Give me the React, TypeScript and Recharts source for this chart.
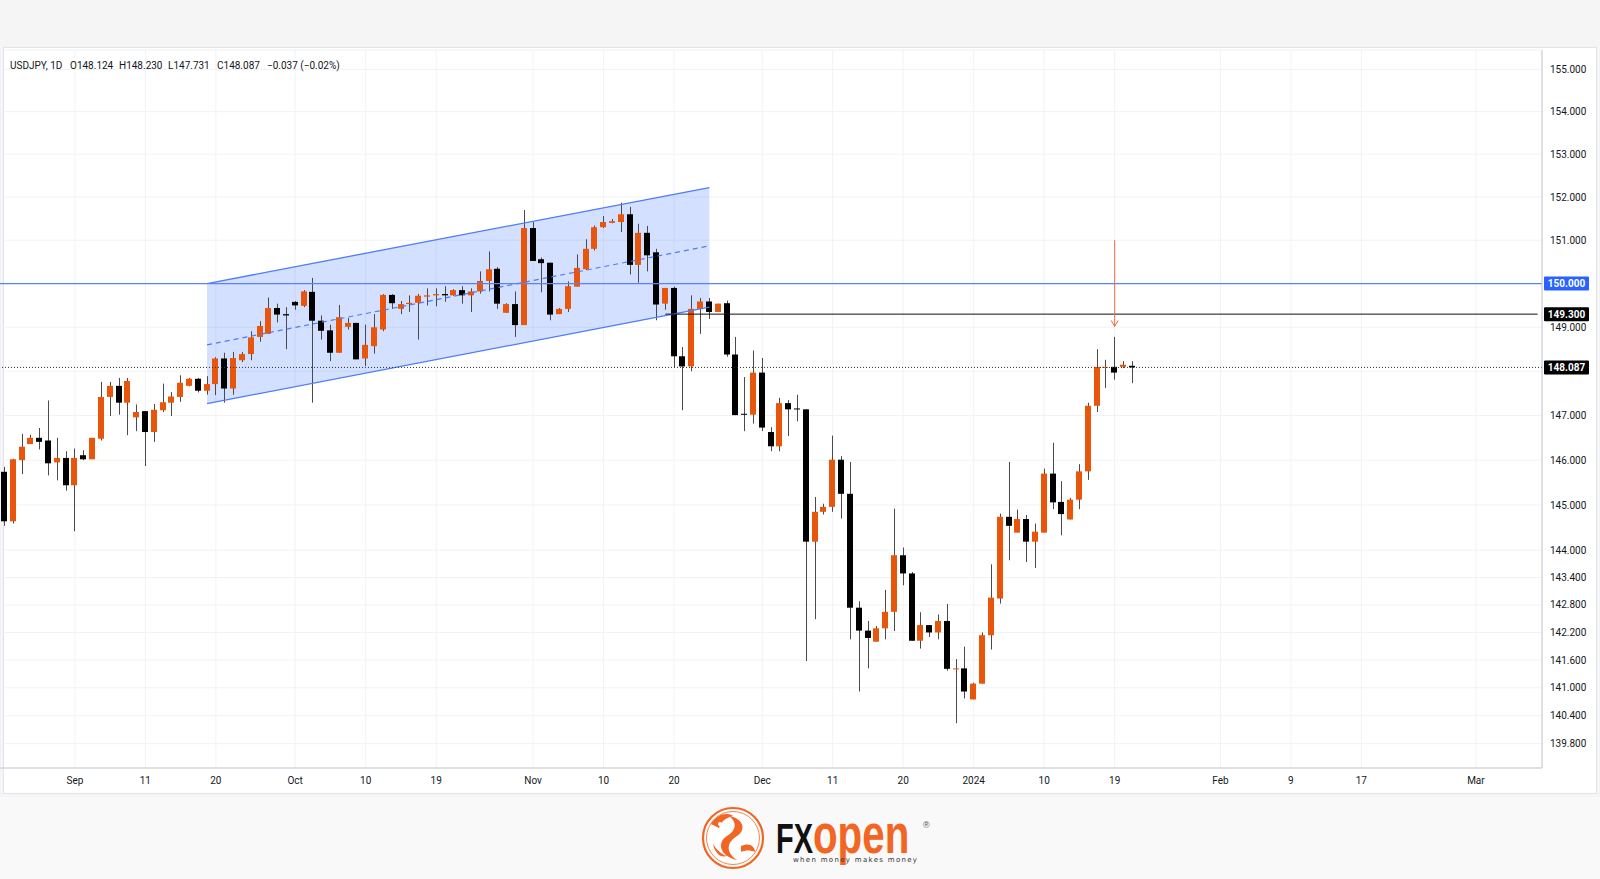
import React from 'react';
import { ComposedChart, Bar, Area, Line, XAxis, YAxis, CartesianGrid, ReferenceLine } from 'recharts';

// USDJPY daily candles (oldest first)
const opens = [
  145.74, 144.64, 146.0, 146.36, 146.5, 146.44, 145.95, 146.05, 145.44, 146.11,
  146.02, 146.48, 147.42, 147.67, 147.29, 146.96, 147.1, 146.63, 147.12, 147.29,
  147.42, 147.67, 147.83, 147.56, 147.71, 148.29, 147.61, 148.25, 148.39, 148.78,
  148.85, 149.44, 149.3, 149.58, 149.49, 149.81, 149.15, 148.93, 148.42, 149.01,
  149.1, 148.29, 148.57, 148.95, 149.74, 149.42, 149.53, 149.56, 149.7, 149.73,
  149.76, 149.73, 149.85, 149.73, 149.82, 150.06, 150.34, 149.33, 149.53, 149.05,
  151.28, 150.56, 150.48, 149.3, 149.42, 149.93, 150.33, 150.8, 151.3, 151.4,
  151.42, 151.6, 150.43, 151.17, 150.72, 149.54, 149.9, 148.34, 148.11, 149.42,
  149.59, 149.35, 149.55, 148.38, 147.04, 147.02, 147.97, 146.63, 146.31, 147.28,
  147.16, 147.14, 144.19, 144.85, 144.96, 146.01, 145.25, 142.74, 142.24, 142.0,
  142.29, 142.65, 143.89, 143.49, 142.02, 142.36, 142.2, 142.45, 141.4, 141.42,
  140.75, 141.09, 142.14, 142.94, 144.74, 144.39, 144.69, 144.19, 144.39, 145.7,
  145.07, 144.68, 145.12, 145.75, 147.22, 148.09, 148.1, 148.1, 148.124,
];
const highs = [
  145.85, 146.03, 146.59, 146.57, 146.72, 147.34, 146.5, 146.2, 146.26, 146.22,
  146.5, 147.76, 147.76, 147.85, 147.85, 147.25, 147.1, 147.26, 147.72, 147.53,
  147.91, 147.85, 147.85, 147.89, 148.32, 148.42, 148.44, 148.44, 148.91, 149.14,
  149.68, 149.54, 149.46, 149.6, 149.85, 150.13, 149.27, 149.06, 149.51, 149.21,
  149.1, 149.06, 149.3, 149.76, 149.76, 149.6, 149.73, 149.76, 149.89, 149.89,
  149.94, 149.87, 149.94, 149.89, 150.28, 150.74, 150.38, 149.55, 149.82, 151.7,
  151.42, 150.6, 150.48, 149.44, 150.05, 150.67, 151.02, 151.34, 151.56, 151.49,
  151.87, 151.77, 151.38, 151.33, 150.8, 149.9, 149.93, 148.55, 149.73, 149.67,
  149.67, 149.54, 149.61, 148.78, 147.87, 148.47, 148.3, 146.74, 147.4, 147.35,
  147.47, 147.14, 145.18, 145.03, 146.55, 146.09, 145.96, 142.88, 142.45, 142.34,
  143.13, 144.92, 144.06, 143.52, 142.64, 142.36, 142.59, 142.82, 141.62, 141.89,
  141.11, 142.2, 143.69, 144.81, 145.96, 144.9, 144.78, 144.59, 145.81, 146.39,
  145.53, 145.16, 145.91, 147.29, 148.5, 148.26, 148.78, 148.23, 148.23,
];
const lows = [
  144.54, 144.59, 145.69, 146.36, 146.24, 145.66, 145.55, 145.32, 144.42, 146.0,
  146.02, 146.44, 146.99, 147.02, 146.56, 146.65, 145.87, 146.41, 147.08, 146.99,
  147.31, 147.66, 147.52, 147.47, 147.46, 147.29, 147.47, 148.21, 148.25, 148.67,
  148.85, 149.11, 148.5, 149.4, 149.46, 147.29, 148.72, 148.23, 148.42, 148.95,
  148.27, 148.12, 148.4, 148.91, 149.42, 149.3, 149.35, 148.72, 149.5, 149.48,
  149.58, 149.72, 149.54, 149.35, 149.77, 149.82, 149.42, 149.33, 148.78, 149.05,
  150.52, 149.8, 149.16, 149.3, 149.35, 149.93, 150.31, 150.76, 151.28, 151.39,
  151.19, 150.21, 150.02, 150.28, 149.16, 149.4, 148.08, 147.12, 148.0, 148.85,
  149.19, 149.35, 148.33, 147.01, 146.65, 146.82, 146.65, 146.2, 146.2, 146.54,
  146.87, 141.58, 142.49, 144.79, 144.85, 144.7, 142.05, 140.92, 141.42, 142.0,
  142.05, 142.23, 143.23, 142.02, 141.85, 142.1, 142.05, 141.37, 140.24, 140.77,
  140.75, 141.09, 141.83, 142.83, 143.78, 144.39, 143.74, 143.61, 144.39, 144.91,
  144.33, 144.68, 144.91, 145.56, 147.08, 147.62, 147.81, 148.07, 147.731,
];
const closes = [
  144.64, 146.02, 146.3, 146.5, 146.41, 145.93, 146.05, 145.44, 146.05, 146.02,
  146.5, 147.42, 147.67, 147.29, 147.78, 147.08, 146.63, 147.13, 147.3, 147.43,
  147.74, 147.83, 147.56, 147.71, 148.29, 147.61, 148.3, 148.39, 148.77, 149.03,
  149.44, 149.29, 149.27, 149.5, 149.82, 149.15, 148.92, 148.42, 149.23, 149.1,
  148.27, 148.6, 149.0, 149.74, 149.55, 149.53, 149.56, 149.72, 149.73, 149.76,
  149.73, 149.85, 149.73, 149.82, 150.06, 150.33, 149.54, 149.53, 149.05, 151.28,
  150.52, 150.47, 149.29, 149.42, 149.94, 150.36, 150.8, 151.3, 151.42, 151.44,
  151.6, 150.43, 151.17, 150.65, 149.52, 149.9, 148.34, 148.11, 149.42, 149.59,
  149.35, 149.54, 148.38, 147.01, 147.02, 147.97, 146.73, 146.31, 147.28, 147.14,
  147.14, 144.19, 144.85, 144.96, 146.01, 145.25, 142.74, 142.24, 142.08, 142.29,
  142.65, 143.89, 143.49, 142.02, 142.36, 142.2, 142.45, 141.41, 141.42, 140.92,
  141.09, 142.14, 142.96, 144.74, 144.54, 144.69, 144.19, 144.41, 145.7, 145.06,
  144.8, 145.12, 145.75, 147.22, 148.1, 148.1, 147.97, 148.15, 148.087,
];

// time scale: bar slots incl. empty future space on the right
const totalSlots = 175;
const tickIdx = [8, 16, 24, 33, 41, 49, 60, 68, 76, 86, 94, 102, 110, 118, 126, 138, 146, 154, 167];
const tickText = ['Sep', '11', '20', 'Oct', '10', '19', 'Nov', '10', '20', 'Dec', '11', '20', '2024', '10', '19', 'Feb', '9', '17', 'Mar'];

const priceTicks = [139.8, 140.4, 141, 141.6, 142.2, 142.8, 143.4, 144, 145, 146, 147, 148, 149, 150, 151, 152, 153, 154, 155];
const hiddenTicks = [148, 150];

// rising channel drawing (start / end bar)
const channelIdx = [23, 80];
const channelUpper = [150.0, 152.22];
const channelMid = [148.6, 150.87];
const channelLower = [147.27, 149.46];

const resistance = 150.0;
const target = 149.3;
const targetFrom = 75;
const lastPrice = 148.087;
const arrowIdx = 126;
const arrowFrom = 151.0;
const arrowTo = 149.02;

const ORANGE = '#e8560c';
const BLACK = '#000000';
const WICK = '#4a4a4a';
const BLUE = '#2962ff';
const FONT = 'Roboto, "Liberation Sans", sans-serif';
const LOGO_FONT = '"Liberation Sans", Arial, sans-serif';

const rows = Array.from({ length: totalSlots }, (_, i) => {
  const row: any = { i };
  if (i < opens.length) {
    row.o = opens[i];
    row.h = highs[i];
    row.l = lows[i];
    row.c = closes[i];
    row.range = [lows[i], highs[i]];
  }
  const k = channelIdx.indexOf(i);
  if (k >= 0) {
    row.chUp = channelUpper[k];
    row.chMid = channelMid[k];
    row.chDn = channelLower[k];
    row.chBand = [channelLower[k], channelUpper[k]];
  }
  return row;
});

const Candle = (props: any) => {
  const { x, y, width, height, payload } = props;
  if (!payload || payload.h == null) return <g />;
  const lh = Math.log(payload.h);
  const ll = Math.log(payload.l);
  const span = lh - ll;
  // position inside the high-low bar, log price scale
  const py = (v: number) => (span > 0 ? y + (height * (lh - Math.log(v))) / span : y);
  const up = payload.c >= payload.o;
  const top = py(Math.max(payload.o, payload.c));
  const bot = py(Math.min(payload.o, payload.c));
  const cx = Math.round(x + width / 2) + 0.5;
  return (
    <g>
      <line x1={cx} x2={cx} y1={y} y2={y + height} stroke={WICK} strokeWidth={1} />
      <rect x={Math.round(x)} y={top} width={width} height={Math.max(1, bot - top)} fill={up ? ORANGE : BLACK} />
    </g>
  );
};

const PriceTick = (props: any) => {
  const { x, y, payload } = props;
  if (hiddenTicks.includes(payload.value)) return <g />;
  return (
    <text x={x} y={y} dy={3.5} fontSize={10} fill="#131722" fontFamily={FONT} textAnchor="start">
      {payload.value.toFixed(3)}
    </text>
  );
};

const TimeTick = (props: any) => {
  const { x, y, payload } = props;
  const k = tickIdx.indexOf(payload.value);
  return (
    <text x={x} y={y} dy={8} fontSize={10} fill="#131722" fontFamily={FONT} textAnchor="middle">
      {k >= 0 ? tickText[k] : ''}
    </text>
  );
};

const priceTag = (text: string, bg: string) => (props: any) => {
  const vb = props.viewBox || {};
  const right = vb.x + vb.width;
  return (
    <g>
      <rect x={right + 2} y={vb.y - 7} width={45} height={14} fill={bg} rx={1} />
      <text x={right + 24.5} y={vb.y} dy={3.5} fontSize={10} fontWeight={700} fill="#ffffff" fontFamily={FONT} textAnchor="middle">
        {text}
      </text>
    </g>
  );
};

const Arrow = (props: any) => {
  const { x1, y1, x2, y2 } = props;
  if (x1 == null) return <g />;
  return (
    <g stroke="#f26a4b" strokeWidth={1} fill="none">
      <line x1={x1} y1={y1} x2={x2} y2={y2} />
      <polyline points={`${x2 - 3.5},${y2 - 6} ${x2},${y2} ${x2 + 3.5},${y2 - 6}`} />
    </g>
  );
};

const Logo = () => (
  <svg width={300} height={84} style={{ position: 'absolute', left: 690, top: 795 }}>
    <g transform="translate(43,43)">
      <circle r={30} fill="#ffffff" stroke="#f26522" strokeWidth={2.2} />
      <circle r={26.5} fill="none" stroke="#f26522" strokeWidth={0.8} />
      <path d="M-4,-22 C10,-20 14,-8 4,-2 C-6,4 -8,14 4,22 C-14,18 -16,4 -6,-2 C4,-8 4,-16 -4,-22 Z" fill="#f26522" />
      <path d="M-22,-14 C-16,-24 -6,-26 0,-22 C-8,-20 -12,-16 -14,-10 Z" fill="#f26522" />
      <path d="M8,8 C16,4 22,8 22,14 C18,12 12,12 8,14 Z" fill="#f26522" />
      <path d="M-20,6 C-16,12 -12,16 -6,18 C-12,20 -18,16 -20,6 Z" fill="#f26522" />
      <circle cx={-13} cy={-14} r={2} fill="#ffffff" />
    </g>
    <text transform="translate(86,58) scale(0.69,1)" fontSize={42} fontWeight={900} fill="#111111" fontFamily={LOGO_FONT}>
      FX
    </text>
    <text transform="translate(123,58) scale(0.72,1)" fontSize={56} fontWeight={700} fill="#f26522" fontFamily={LOGO_FONT}>
      open
    </text>
    <text x={233} y={33} fontSize={9} fill="#555555" fontFamily={LOGO_FONT}>
      ®
    </text>
    <text x={103} y={67} fontSize={7} fill="#333333" fontFamily='"DejaVu Sans", sans-serif' textLength={124} lengthAdjust="spacing">
      when money makes money
    </text>
  </svg>
);

const legendParts = [
  { left: 10, text: 'USDJPY, 1D' },
  { left: 70, text: 'O148.124' },
  { left: 119, text: 'H148.230' },
  { left: 168, text: 'L147.731' },
  { left: 217, text: 'C148.087' },
  { left: 267, text: '\u22120.037 (\u22120.02%)' },
];

export default function App() {
  return (
    <div style={{ position: 'absolute', left: 0, top: 0, width: 1600, height: 879, background: '#f5f5f6', overflow: 'hidden' }}>
      <div style={{ position: 'absolute', left: 3, top: 47, width: 1594, height: 747, background: '#ffffff', border: '1px solid #e0e3eb', boxSizing: 'border-box' }} />
      <div style={{ position: 'absolute', left: 0, top: 797, width: 1600, height: 82, background: '#f9f9f9' }} />
      <div style={{ position: 'absolute', left: 0, top: 49 }}>
        <ComposedChart width={1600} height={747} data={rows} margin={{ top: 1, right: 0, left: 0, bottom: 0 }}>
          <CartesianGrid stroke="#f0f2f5" />
          <XAxis
            dataKey="i"
            type="category"
            ticks={tickIdx}
            interval={0}
            height={28}
            tick={<TimeTick />}
            tickLine={false}
            axisLine={{ stroke: '#c5c8cf' }}
          />
          <YAxis
            orientation="right"
            scale="log"
            domain={[139.28, 155.46]}
            allowDataOverflow
            ticks={priceTicks}
            interval={0}
            width={58}
            tick={<PriceTick />}
            tickLine={false}
            axisLine={{ stroke: '#c5c8cf' }}
          />
          <Area dataKey="chBand" connectNulls stroke="none" fill={BLUE} fillOpacity={0.2} isAnimationActive={false} />
          <Line dataKey="chUp" connectNulls dot={false} activeDot={false} stroke="#4f7cf7" strokeWidth={1.3} isAnimationActive={false} />
          <Line dataKey="chDn" connectNulls dot={false} activeDot={false} stroke="#4f7cf7" strokeWidth={1.3} isAnimationActive={false} />
          <Line dataKey="chMid" connectNulls dot={false} activeDot={false} stroke="#4f7cf7" strokeWidth={1.2} strokeDasharray="5 4" isAnimationActive={false} />
          <ReferenceLine y={resistance} stroke="#5b82f8" strokeWidth={1.2} label={priceTag('150.000', BLUE)} />
          <ReferenceLine segment={[{ x: targetFrom, y: target }, { x: totalSlots - 1, y: target }]} stroke="#111111" strokeWidth={1} />
          <ReferenceLine y={target} stroke="none" label={priceTag('149.300', '#000000')} />
          <ReferenceLine y={lastPrice} stroke="#333333" strokeDasharray="1 2" label={priceTag('148.087', '#000000')} />
          <Bar dataKey="range" barSize={6} shape={<Candle />} isAnimationActive={false} />
          <ReferenceLine segment={[{ x: arrowIdx, y: arrowFrom }, { x: arrowIdx, y: arrowTo }]} shape={<Arrow />} />
        </ComposedChart>
      </div>
      {legendParts.map((p) => (
        <div key={p.left} style={{ position: 'absolute', left: p.left, top: 59, fontSize: 10, lineHeight: '14px', color: '#131722', fontFamily: FONT, whiteSpace: 'nowrap' }}>
          {p.text}
        </div>
      ))}
      <Logo />
    </div>
  );
}
